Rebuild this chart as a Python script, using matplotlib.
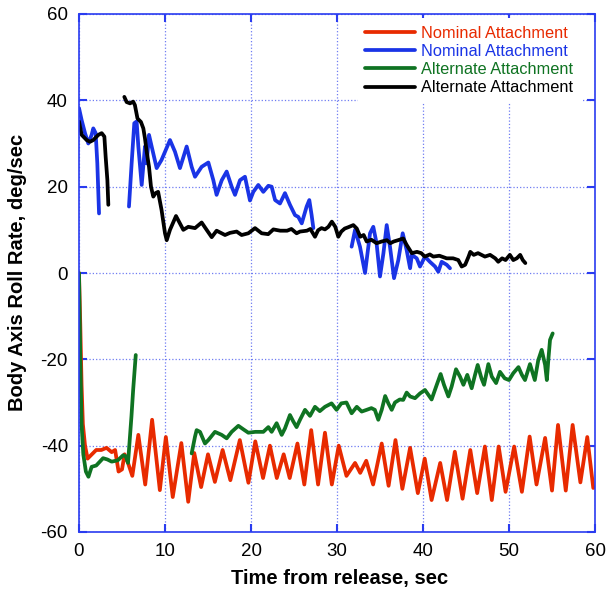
import numpy as np
import matplotlib
matplotlib.use("Agg")
import matplotlib.pyplot as plt

plt.rcParams['font.family'] = ['Liberation Sans', 'DejaVu Sans']
plt.rcParams['axes.unicode_minus'] = False

nan = np.nan

# red: nominal attachment, lower trace
red_t = [0, 0.15, 0.3, 0.45, 0.7, 1.0, 1.5, 2.0, 2.6, 3.2, 3.8, 4.2, 4.6, 5.0, 5.3, 5.7,
         6.2, 6.9, 7.7, 8.5, 9.4, 10.1, 10.9, 11.9, 12.7, 13.4, 14.2, 15.0, 15.8, 16.7,
         17.6, 18.7, 19.7, 20.5, 21.4, 22.2, 23.0, 23.8, 24.5, 25.4, 26.2, 27.0, 27.8,
         28.6, 29.4, 30.2, 31.1, 32.1, 32.7, 33.4, 34.2, 35.2, 36.0, 36.8, 37.6, 38.5,
         39.4, 40.2, 41.0, 42.0, 42.8, 43.7, 44.6, 45.5, 46.3, 47.2, 48.0, 48.8, 49.6,
         50.6, 51.5, 52.4, 53.2, 54.2, 55.0, 55.7, 56.6, 57.4, 58.3, 59.1, 59.8]
red_y = [0, -12, -26, -35, -40, -43, -42, -41, -41, -40.5, -41.5, -41, -46, -45.5, -42, -44,
         -47, -37.5, -49, -34, -50.3, -38, -51.9, -39.4, -53, -41.7, -49.6, -42, -48.4, -41,
         -48, -38.7, -48.6, -39, -47.5, -40, -47.5, -42, -47.5, -39.5, -49, -36.4, -49,
         -37, -49, -40, -47, -44, -46.3, -43.5, -49, -39.5, -49.3, -38.7, -50, -40.5,
         -51, -43, -52.6, -44, -52.6, -41.4, -52.3, -41, -51, -40.2, -52.6, -40.2, -50.7,
         -40.2, -50.7, -37.9, -49, -38.2, -50.4, -35.2, -50.4, -35.2, -48.5, -38, -49.8]

# blue: nominal attachment, upper trace (three pieces)
blue_t = [0.0, 0.31, 0.7, 1.08, 1.47, 1.66, 1.94, 2.13, 2.33, nan,
          5.81, 6.12, 6.43, 6.7, 6.9, 7.29, 7.67, 7.87, 8.14, 8.45, 9.03, 9.6, 10.58,
          11.16, 11.74, 12.52, 13.1, 13.49, 14.26, 15.04, 15.62, 16.0, 16.6, 17.17,
          17.75, 18.14, 18.72, 19.3, 19.88, 20.27, 20.85, 21.43, 22.02, 22.4, 22.8,
          23.37, 23.95, 24.53, 25.12, 25.5, 25.9, 26.47, 26.78, 27.05, 27.25, nan,
          31.7, 32.1, 32.67, 33.26, 33.84, 34.22, 34.6, 35.0, 35.4, 35.78, 36.16, 36.63,
          37.13, 37.64, 38.1, 38.5, 38.7, 39.27, 39.65, 40.23, 40.8, 41.4, 41.78, 42.17,
          42.76, 43.14]
blue_y = [38.2, 35.4, 32.4, 30.0, 32.0, 33.5, 32.4, 25.4, 13.8, nan,
          15.4, 25.4, 34.7, 35.1, 29.3, 20.4, 29.3, 25.4, 32.0, 29.3, 24.3, 26.2, 30.8,
          28.1, 24.3, 29.3, 24.6, 22.3, 24.6, 25.6, 21.5, 18.1, 21.5, 23.5,
          20.0, 18.1, 21.5, 22.3, 16.8, 18.8, 20.4, 18.8, 20.2, 20.0, 16.9,
          16.1, 18.5, 15.8, 13.4, 13.0, 11.5, 15.4, 16.9, 13.4, 10.4, nan,
          6.1, 10.0, 6.1, 0.0, 9.2, 10.7, 6.9, -0.8, 4.6, 11.1, 6.1, -1.2,
          3.0, 9.2, 5.3, 1.1, 4.2, 3.4, 1.5, 3.8, 2.6, 1.5, 0.3, 2.6,
          1.9, 1.1]

# green: alternate attachment, lower trace (two pieces)
green_t = [0, 0.15, 0.3, 0.5, 0.8, 1.1, 1.47, 2.0, 2.8, 3.3, 3.8, 4.5, 5.15, 5.45, 5.7,
           6.1, 6.3, 6.6, nan,
           13.1, 13.49, 13.68, 14.07, 14.65, 15.04, 15.81, 16.59, 17.17, 17.75, 18.53,
           19.1, 19.69, 20.5, 21.43, 22.02, 22.4, 22.98, 23.57, 23.95, 24.53, 24.92,
           25.3, 25.7, 26.28, 26.86, 27.44, 28.0, 28.6, 29.37, 29.95, 30.5, 31.1, 31.7,
           32.3, 32.87, 33.45, 34.0, 34.4, 34.8, 35.2, 35.6, 35.97, 36.36, 36.74, 37.3,
           37.7, 38.1, 38.5, 39.07, 39.65, 40.23, 41.0, 41.6, 42.05, 42.44, 42.95, 43.33,
           43.84, 44.3, 44.7, 45.15, 45.66, 46.05, 46.36, 46.8, 47.1, 47.6, 48.0, 48.5,
           48.95, 49.5, 50.0, 50.5, 51.1, 51.5, 51.86, 52.44, 53.0, 53.4, 53.8, 54.2,
           54.4, 54.57, 54.77, 55.08]
green_y = [0, -20, -35, -42, -46, -47.2, -44.9, -44.6, -42.9, -43.2, -43.7, -43.4, -42.2,
           -42.5, -44, -33.2, -27, -19, nan,
           -41.8, -37.9, -36.4, -36.8, -39.5, -38.7, -36.8, -37.5, -38.3, -36.8, -35.4,
           -36.2, -37.0, -36.8, -36.8, -35.7, -36.8, -34.8, -37.5, -36.0, -32.9, -34.4,
           -35.7, -34.0, -31.7, -33.1, -31.0, -32.0, -31.0, -30.2, -31.7, -30.2, -30.0,
           -32.5, -31.0, -32.1, -31.7, -31.3, -31.7, -34.0, -31.7, -28.5, -30.2, -31.7,
           -30.0, -29.3, -29.4, -27.7, -28.6, -29.0, -27.9, -27.1, -29.3, -25.9, -23.4,
           -25.9, -28.6, -26.3, -22.3, -24.0, -25.9, -23.6, -26.7, -23.6, -21.3, -24.4,
           -25.9, -21.1, -24.0, -25.5, -22.9, -24.4, -24.8, -23.2, -21.8, -23.6, -24.8,
           -21.1, -24.8, -20.2, -17.8, -21.3, -24.8, -20.2, -15.5, -14.0]

# black: alternate attachment, upper trace (two pieces)
black_t = [0.0, 0.31, 0.89, 1.28, 1.66, 2.25, 2.64, 2.95, 3.1, 3.3, 3.41, nan,
           5.27, 5.54, 5.93, 6.3, 6.5, 6.8, 7.2, 7.48, 7.67, 7.87, 8.14, 8.37, 8.64,
           8.9, 9.2, 9.6, 10.0, 10.2, 10.58, 11.28, 12.13, 12.71, 13.49, 14.26, 14.84,
           15.43, 16.0, 16.98, 17.56, 18.33, 18.91, 19.69, 20.47, 21.24, 22.0, 22.6,
           23.4, 24.2, 24.7, 25.3, 25.7, 26.5, 26.9, 27.44, 27.8, 28.2, 28.6, 29.0,
           29.4, 29.8, 30.15, 30.5, 30.9, 31.3, 31.9, 32.3, 32.7, 33.1, 33.45, 34.0,
           34.6, 35.2, 35.8, 36.2, 36.6, 37.1, 37.7, 38.1, 38.7, 39.3, 39.8, 40.2,
           40.8, 41.2, 41.9, 42.75, 43.5, 44.1, 44.5, 44.9, 45.3, 45.5, 45.9, 46.4,
           47.2, 47.8, 48.4, 48.75, 49.2, 49.6, 50.1, 50.5, 50.9, 51.3, 51.6, 51.9]
black_y = [35.1, 32.0, 30.8, 30.4, 30.8, 32.0, 32.4, 31.6, 26.9, 21.5, 15.8, nan,
           40.8, 39.6, 39.3, 39.7, 38.9, 35.8, 35.0, 33.5, 31.2, 28.1, 24.6, 20.0, 17.7,
           18.5, 18.8, 14.6, 9.2, 7.6, 10.0, 13.2, 10.0, 10.7, 10.4, 11.7, 10.0,
           8.3, 9.8, 8.8, 9.3, 9.6, 8.8, 9.2, 10.4, 9.2, 9.0, 10.1,
           9.8, 9.8, 10.2, 9.2, 9.6, 9.8, 10.2, 8.4, 9.9, 10.4, 10.1, 10.7,
           11.9, 10.7, 8.4, 9.6, 10.3, 10.6, 11.1, 10.3, 8.4, 8.8, 7.3, 7.7,
           6.9, 7.3, 7.6, 6.9, 7.3, 7.6, 8.0, 6.5, 4.6, 4.9, 4.6, 3.8,
           4.3, 3.8, 4.0, 3.4, 3.4, 3.0, 1.5, 1.9, 3.8, 4.9, 4.2, 4.6,
           3.8, 4.2, 3.4, 2.6, 3.4, 3.0, 4.2, 3.0, 3.4, 4.2, 3.0, 2.3]

labels = ['Nominal Attachment', 'Nominal Attachment',
          'Alternate Attachment', 'Alternate Attachment']
colors = ['#e82a00', '#1a34e6', '#0f7322', '#000000']

fig = plt.figure(figsize=(6.13, 5.90), dpi=100)
ax = fig.add_axes([79/613, 58/590, 516/613, 518/590])

series = [(red_t, red_y), (blue_t, blue_y), (green_t, green_y), (black_t, black_y)]
for (t, y), c, lab in zip(series, colors, labels):
    ax.plot(t, y, color=c, lw=2.7, label=lab,
            solid_joinstyle='round', solid_capstyle='round')

ax.set_xlim(0, 60)
ax.set_ylim(-60, 60)
ax.set_xticks(np.arange(0, 61, 10))
ax.set_yticks(np.arange(-60, 61, 20))

spine_blue = '#2a3cf0'
for s in ax.spines.values():
    s.set_color(spine_blue)
    s.set_linewidth(1.2)
ax.grid(True, color='#6f7cf2', linestyle=':', linewidth=0.9)
ax.tick_params(direction='in', length=6, width=1.5, color=spine_blue,
               top=True, right=True, labelsize=13.5, pad=8)

ax.set_xlabel('Time from release, sec', fontsize=14.5, fontweight='bold')
ax.set_ylabel('Body Axis Roll Rate, deg/sec', fontsize=14.5, fontweight='bold')
ax.xaxis.set_label_coords(0.504, -0.072)
ax.yaxis.set_label_coords(-0.1, 0.502)

# white legend box, no border, hiding the grid behind it
leg = ax.legend(loc='upper right', bbox_to_anchor=(0.972, 0.992), frameon=True,
                fancybox=False, facecolor='white', edgecolor='none', framealpha=1,
                fontsize=11.8, handlelength=3.0, handletextpad=0.4,
                labelspacing=0.2, borderaxespad=0, borderpad=0.45)
for txt, c in zip(leg.get_texts(), colors):
    txt.set_color(c)
for h in leg.get_lines():
    h.set_linewidth(2.7)

fig.savefig('out.png', dpi=100)
